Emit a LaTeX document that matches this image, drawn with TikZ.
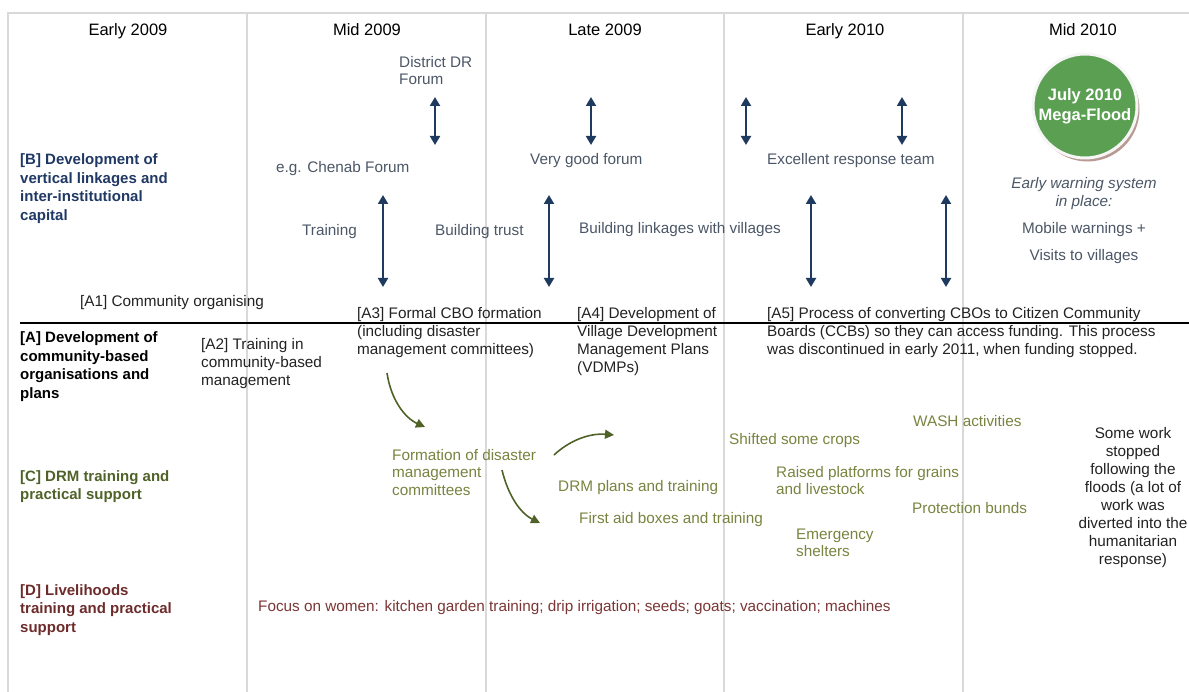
\documentclass[tikz,border=0pt]{standalone}
\usepackage{fontspec}
\setmainfont{Liberation Sans}
\usepackage{tikz}
\usetikzlibrary {arrows.meta,
                 shadows}
\definecolor{gridgray}{HTML}{D9D9D9}
\definecolor{linkblue}{HTML}{1F3A5F}
\definecolor{blabel}{HTML}{1F3864}
\definecolor{bitem}{HTML}{4B5666}
\definecolor{aitem}{HTML}{222222}
\definecolor{clabel}{HTML}{4F6228}
\definecolor{citem}{HTML}{77843F}
\definecolor{dlabel}{HTML}{6D2B2B}
\definecolor{ditem}{HTML}{7B3535}
\definecolor{floodgreen}{HTML}{5BA052}
\definecolor{floodshadow}{HTML}{B89A94}
\tikzset{
    header/.style={font=\fontsize{16.5}{20}\selectfont, anchor=base},
        rowlabel/.style={font=\fontsize{15}{18.5}\selectfont\bfseries, align=left,
                         anchor=base west, inner sep=0pt},
        item/.style={font=\fontsize{15.3}{17.8}\selectfont, align=left,
                     anchor=base west, inner sep=0pt},
        citem/.style={item, text=citem},
        flood/.style={circle, minimum size=104pt, inner sep=0pt, fill=floodgreen,
                      draw=white!93!gray, line width=3pt, text=white, align=center,
                      font=\fontsize{16.5}{20}\selectfont\bfseries,
                      drop shadow={shadow xshift=2.5pt, shadow yshift=-3.5pt,
                                   fill=floodshadow, opacity=1}},
        linkarrow/.style={{Triangle[length=9pt,width=10pt]}-{Triangle[length=9pt,width=10pt]},
                          line width=2pt, draw=linkblue},
        drmarrow/.style={-{Triangle[length=9pt,width=9pt]}, line width=1.6pt, draw=clabel},
 }
\begin{document}
\begin{tikzpicture}[x=1pt, y=-1pt]

    \useasboundingbox (0,0) rectangle (1189,692);

    % table frame
    \draw[gridgray, line width=1.6pt] (1189,13) -- (8,13) -- (8,692);
    \foreach \cx in {247,486,724,963}
        \draw[gridgray, line width=1.6pt] (\cx,13) -- (\cx,692);

    \node[header] (h1) at (128,36) {Early 2009};
    \node[header] (h2) at (367,36) {Mid 2009};
    \node[header] (h3) at (605,36) {Late 2009};
    \node[header] (h4) at (845,36) {Early 2010};
    \node[header] (h5) at (1083,36) {Mid 2010};

    % [B] vertical linkages (multi-line nodes sit on their last line)
    \node[rowlabel, text=blabel] (lb) at (20,220.5)
        {[B] Development of\\vertical linkages and\\inter-institutional\\capital};
    \node[item, text=bitem] (forum) at (399,85) {District DR\\Forum};
    \node[item, text=bitem] (chenab) at (276,173) {e.g. Chenab Forum};
    \node[item, text=bitem] (train) at (302,236) {Training};
    \node[item, text=bitem] (trust) at (435,236) {Building trust};
    \node[item, text=bitem] (good) at (530,165) {Very good forum};
    \node[item, text=bitem] (links) at (579,234) {Building linkages with villages};
    \node[item, text=bitem] (team) at (767,165) {Excellent response team};

    \foreach \ax/\ay/\by [count=\k] in {435/97/145, 591/97/145, 746/97/145, 902/97/145,
                                        383/195/287, 549/195/287, 811/195/287, 946/195/287}{
        \coordinate (up\k) at (\ax,\ay);
        \coordinate (lo\k) at (\ax,\by);
        \draw[linkarrow] (up\k) -- (lo\k);
    }

    \node[flood] (mega) at (1085,106) {July 2010\\Mega-Flood};
    \node[item, text=bitem, anchor=base, align=center, font=\fontsize{15.3}{18}\selectfont\itshape]
        (warn) at (1084,207) {Early warning system\\in place:};
    \node[item, text=bitem, anchor=base] (mobile) at (1084,234) {Mobile warnings +};
    \node[item, text=bitem, anchor=base] (visits) at (1084,261) {Visits to villages};

    % [A] community-based organisations
    \draw[black, line width=1.5pt] (20,323) -- (1189,323);
    \node[item, text=aitem] (a1) at (80,307) {[A1] Community organising};
    \node[rowlabel, text=black] (la) at (20,398.5)
        {[A] Development of\\community-based\\organisations and\\plans};
    \node[item, text=aitem] (a2) at (201,385.6) {[A2] Training in\\community-based\\management};
    \node[item, text=aitem] (a3) at (357,354.6)
        {[A3] Formal CBO formation\\(including disaster\\management committees)};
    \node[item, text=aitem] (a4) at (577,372.4)
        {[A4] Development of\\Village Development\\Management Plans\\(VDMPs)};
    \node[item, text=aitem] (a5) at (767,354.6)
        {[A5] Process of converting CBOs to Citizen Community\\Boards (CCBs) so they can access funding. This process\\was discontinued in early 2011, when funding stopped.};

    % [C] DRM training
    \node[rowlabel, text=clabel] (lc) at (20,499.5) {[C] DRM training and\\practical support};
    \node[citem] (dmc) at (392,495.6) {Formation of disaster\\management\\committees};
    \node[citem] (plans) at (558,491) {DRM plans and training};
    \node[citem] (aid) at (579,523) {First aid boxes and training};
    \node[citem] (crops) at (729,445) {Shifted some crops};
    \node[citem] (wash) at (913,427) {WASH activities};
    \node[citem] (raised) at (776,494.8) {Raised platforms for grains\\and livestock};
    \node[citem] (bunds) at (912,513) {Protection bunds};
    \node[citem] (shelter) at (796,556.8) {Emergency\\shelters};
    \node[item, text=aitem, anchor=base, align=center, font=\fontsize{15.3}{18}\selectfont]
        (stopped) at (1133,564)
        {Some work\\stopped\\following the\\floods (a lot of\\work was\\diverted into the\\humanitarian\\response)};

    \coordinate (s1) at (387,373);
    \coordinate (e1) at (425,427);
    \coordinate (s2) at (554,455);
    \coordinate (e2) at (614,435);
    \coordinate (s3) at (502,470);
    \coordinate (e3) at (540,523);
    \draw[drmarrow] (s1) .. controls (391,400) and (405,418) .. (e1);
    \draw[drmarrow] (s2) .. controls (570,440) and (590,433) .. (e2);
    \draw[drmarrow] (s3) .. controls (508,495) and (520,513) .. (e3);

    % [D] livelihoods
    \node[rowlabel, text=dlabel] (ld) at (20,632)
        {[D] Livelihoods\\training and practical\\support};
    \node[item, text=ditem] (women) at (258,611)
        {Focus on women: kitchen garden training; drip irrigation; seeds; goats; vaccination; machines};

\end{tikzpicture}
\end{document}
